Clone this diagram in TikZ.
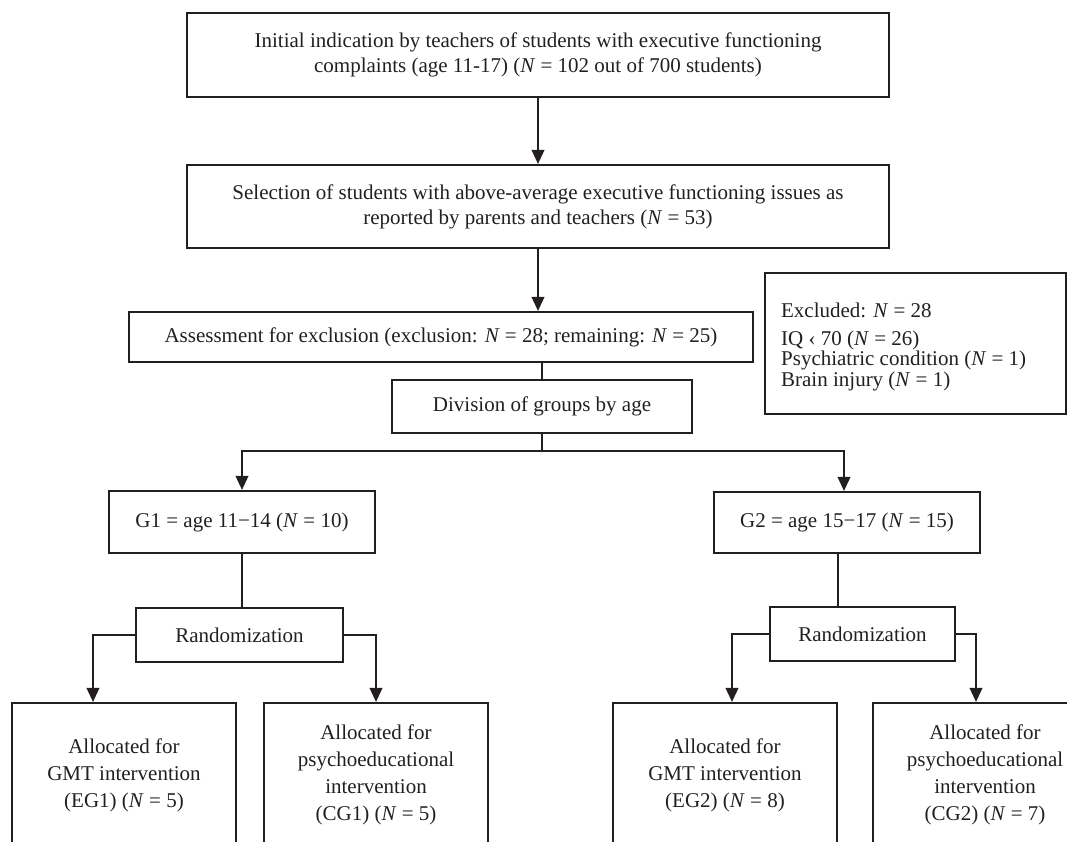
\documentclass[tikz,border=0pt]{standalone}
\usepackage{fontspec}
\setmainfont{Liberation Serif}
\usetikzlibrary{arrows.meta}
\definecolor{ink}{HTML}{231F20}
\begin{document}
\begin{tikzpicture}[x=1pt,y=-1pt,
  box/.style={draw=ink, line width=2.1pt, inner sep=0pt, align=center,
    font=\fontsize{21}{25}\selectfont, text=ink},
  bigbox/.style={box, font=\fontsize{21}{27}\selectfont},
  plaintext/.style={inner sep=0pt, align=left, text=ink,
    font=\fontsize{21}{20.5}\selectfont},
  conn/.style={draw=ink, line width=2.1pt},
  arr/.style={conn, -{Triangle[length=14pt,width=12.5pt]}}]
\useasboundingbox (0,0) rectangle (1067,841);
\clip (0,0) rectangle (1067,841);

\node[box, minimum width=702pt, minimum height=84pt] (b1) at (538,55)
  {Initial indication by teachers of students with executive functioning\\
   complaints (age 11-17) (\textit{N} = 102 out of 700 students)};
\node[box, minimum width=702pt, minimum height=83pt] (b2) at (538,206.5)
  {Selection of students with above-average executive functioning issues as\\
   reported by parents and teachers (\textit{N} = 53)};
\node[box, minimum width=624pt, minimum height=50pt] (as) at (441,337)
  {Assessment for exclusion (exclusion: \textit{N} = 28; remaining: \textit{N} = 25)};
\node[box, minimum width=301pt, minimum height=141pt] (ex) at (915.5,343.5) {};
\node[plaintext, anchor=north west] (extext) at ([xshift=17pt,yshift=-31pt]ex.north west)
  {Excluded: \textit{N} = 28\\[7pt]
   IQ ‹ 70 (\textit{N} = 26)\\
   Psychiatric condition (\textit{N} = 1)\\
   Brain injury (\textit{N} = 1)};
\node[box, minimum width=300pt, minimum height=53pt] (dv) at (542,406.5)
  {Division of groups by age};
\coordinate (split) at (542,451);
\node[box, minimum width=266pt, minimum height=62pt] (g1) at (242,522)
  {G1 = age 11−14 (\textit{N} = 10)};
\node[box, minimum width=266pt, minimum height=61pt] (g2) at (847,522.5)
  {G2 = age 15−17 (\textit{N} = 15)};
\node[box, minimum width=207pt, minimum height=54pt] (r1) at (239.5,635)
  {Randomization};
\node[box, minimum width=185pt, minimum height=54pt] (r2) at (862.5,634)
  {Randomization};
\node[bigbox, minimum width=224pt, minimum height=144pt] (eg1) at (124,775)
  {Allocated for\\GMT intervention\\(EG1) (\textit{N} = 5)};
\node[bigbox, minimum width=224pt, minimum height=144pt] (cg1) at (376,775)
  {Allocated for\\psychoeducational\\intervention\\(CG1) (\textit{N} = 5)};
\node[bigbox, minimum width=224pt, minimum height=144pt] (eg2) at (725,775)
  {Allocated for\\GMT intervention\\(EG2) (\textit{N} = 8)};
\node[bigbox, minimum width=224pt, minimum height=144pt] (cg2) at (985,775)
  {Allocated for\\psychoeducational\\intervention\\(CG2) (\textit{N} = 7)};

\draw[arr] (b1) -- (b2);
\draw[arr] (b2) -- (b2.south |- as.north);
\draw[conn] (as.south -| dv.north) -- (dv.north);
\draw[conn] (dv.south) -- (split);
\draw[arr] (split) -| (g1.north);
\draw[arr] (split) -| ([xshift=-3pt]g2.north);
\draw[conn] (g1.south) -- (g1.south |- r1.north);
\draw[conn] ([xshift=-9pt]g2.south) -- ([xshift=-9pt]g2.south |- r2.north);
\draw[arr] (r1.west) -| ([xshift=-31pt]eg1.north);
\draw[arr] (r1.east) -| (cg1.north);
\draw[arr] (r2.west) -| ([xshift=7pt]eg2.north);
\draw[arr] (r2.east) -| ([xshift=-9pt]cg2.north);
\end{tikzpicture}
\end{document}
